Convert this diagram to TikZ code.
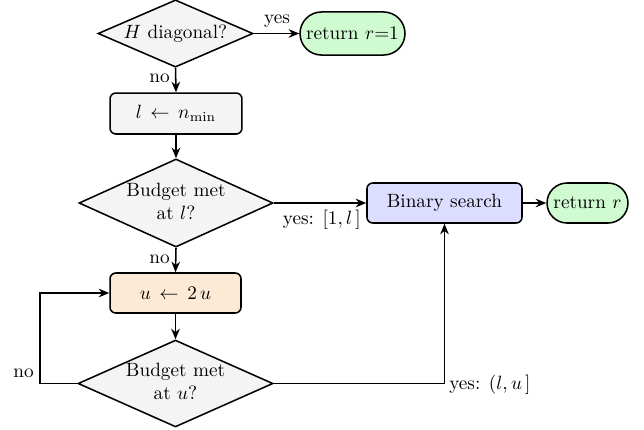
\documentclass[tikz,border=0pt]{standalone}
\usetikzlibrary{arrows.meta,shapes.geometric,shapes.misc}
\definecolor{dgray}{RGB}{244,244,244}
\definecolor{tgreen}{RGB}{208,250,208}
\definecolor{blav}{RGB}{221,222,255}
\definecolor{peach}{RGB}{253,234,214}
\newcommand\ztext[1]{\makebox[0pt]{\smash{\raisebox{-2.5pt}{\begin{tabular}{@{}c@{}}#1\end{tabular}}}}}
\tikzset{
  dec/.style={diamond, draw, line width=0.8pt, fill=dgray, inner sep=0pt, aspect=2},
  procbox/.style={rectangle, draw, line width=0.8pt, rounded corners=3pt, inner sep=0pt},
  termbox/.style={rounded rectangle, draw, line width=0.8pt, fill=tgreen, inner sep=0pt},
  arr/.style={-{Stealth[length=5.5pt,width=4.5pt]}, line width=0.8pt},
  lbl/.style={inner sep=1.5pt}
}
\begin{document}
\begin{tikzpicture}[x=0.52pt,y=-0.52pt]
\useasboundingbox (0,0) rectangle (644,429);
% nodes
\node[dec, minimum width=80.6pt, minimum height=35pt] (d1) at (175.5,33.5) {\ztext{$H$ diagonal?}};
\node[termbox, minimum width=54.6pt, minimum height=22.4pt] (r1) at (352.5,33.5) {return $r$=1};
\node[procbox, fill=dgray, minimum width=68.6pt, minimum height=21.3pt] (lb) at (176,113.5) {$l \,\leftarrow\, n_{\mathrm{min}}$};
\node[dec, minimum width=100.9pt, minimum height=45.8pt] (d2) at (176,203) {\ztext{Budget met\\ at $l$?}};
\node[procbox, fill=peach, minimum width=68.1pt, minimum height=20.8pt] (ub) at (175.5,293) {$u \,\leftarrow\, 2\,u$};
\node[dec, minimum width=101.4pt, minimum height=45.2pt] (d3) at (175.5,383.5) {\ztext{Budget met\\ at $u$?}};
\node[procbox, fill=blav, minimum width=80.6pt, minimum height=20.8pt] (bs) at (444.5,203) {Binary\ search};
\node[termbox, minimum width=42.1pt, minimum height=20.8pt] (r2) at (587.5,203) {return $r$};
\coordinate (lp) at (40,383.5);
% connectors
\draw[arr] (d1.east) -- (r1.west);
\draw[arr] (d1.south) -- (lb.north);
\draw[arr] (lb.south) -- (d2.north);
\draw[arr] (d2.east) -- (bs.west);
\draw[arr] (d2.south) -- (ub.north);
\draw[arr] (ub.south) -- (d3.north);
\draw[arr] (bs.east) -- (r2.west);
\draw[arr] (d3.west) -- (lp) |- (ub.west);
\draw[arr] (d3.east) -| (bs.south);
% labels
\node[lbl, anchor=south] (ly) at (277,31) {yes};
\node[lbl, anchor=east] (ln1) at (173,78) {no};
\node[lbl, anchor=east] (ln2) at (173,259) {no};
\node[lbl, anchor=north east] (ly2) at (364,207) {yes: $[1,l\,]$};
\node[lbl, anchor=south east] (ln3) at (37,381) {no};
\node[lbl, anchor=west] (ly3) at (446,385) {yes: $(l,u\,]$};
\end{tikzpicture}
\end{document}
